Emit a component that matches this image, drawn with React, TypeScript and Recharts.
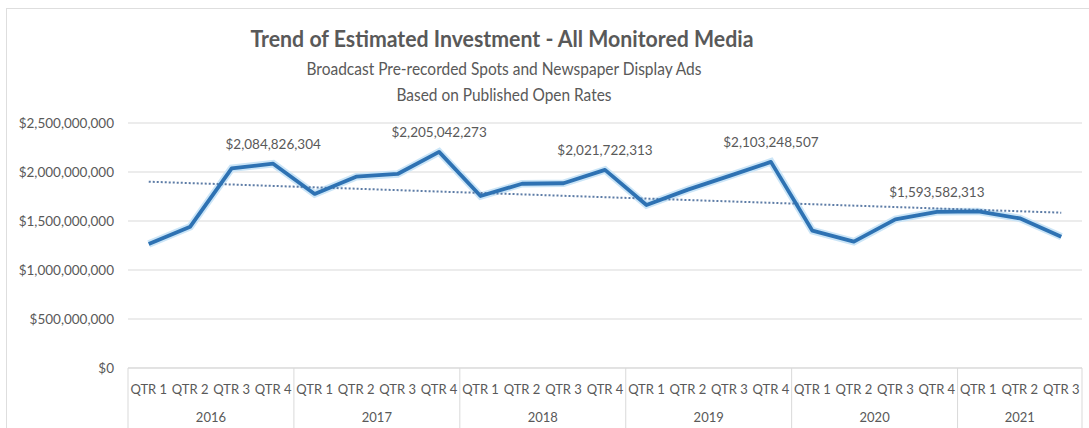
import { LineChart, Line, XAxis, YAxis, CartesianGrid } from "recharts";

const years = ["2016", "2017", "2018", "2019", "2020", "2021"];
const quarters = ["QTR 1", "QTR 2", "QTR 3", "QTR 4"];

// estimated investment per quarter, 2016 QTR 1 .. 2021 QTR 3
const investment = [
  1265000000, 1442000000, 2038000000, 2084826304,
  1776000000, 1952000000, 1980000000, 2205042273,
  1755000000, 1880000000, 1885000000, 2021722313,
  1663000000, 1820000000, 1960000000, 2103248507,
  1401000000, 1289000000, 1517000000, 1593582313,
  1598000000, 1527000000, 1340000000,
];

const labelledPoints = ["2016 QTR 4", "2017 QTR 4", "2018 QTR 4", "2019 QTR 4", "2020 QTR 4"];

// linear trendline end values
const trendStart = 1901000000;
const trendEnd = 1585000000;

const yTicks = [0, 500000000, 1000000000, 1500000000, 2000000000, 2500000000];

const rows = investment.map((value, i) => ({
  key: `${years[Math.floor(i / 4)]} ${quarters[i % 4]}`,
  year: years[Math.floor(i / 4)],
  qtr: quarters[i % 4],
  value,
  trend: i === 0 ? trendStart : i === investment.length - 1 ? trendEnd : null,
}));

const FONT = "Lato, 'Open Sans', sans-serif";
const GREY = "#595959";
const money = (v: number) => "$" + v.toLocaleString("en-US");

function QuarterTick(props: any) {
  const { x, y, payload } = props;
  const row = rows[payload.index];
  if (!row) return <g />;
  const half = payload.offset || 20.74;
  const groupSize = rows.filter((r) => r.year === row.year).length;
  const pos = quarters.indexOf(row.qtr);
  const showYear = pos === Math.floor((groupSize - 1) / 2);
  const yearX = groupSize % 2 === 0 ? x + half : x;
  const isLast = payload.index === rows.length - 1;
  return (
    <g>
      {pos === 0 && <line x1={x - half} x2={x - half} y1={y} y2={y + 62} stroke="#d9d9d9" />}
      {isLast && <line x1={x + half} x2={x + half} y1={y} y2={y + 62} stroke="#d9d9d9" />}
      <text x={x} y={y + 26} textAnchor="middle" fontSize={13} fill={GREY} fontFamily={FONT}>
        {row.qtr}
      </text>
      {showYear && (
        <text x={yearX} y={y + 54} textAnchor="middle" fontSize={13} fill={GREY} fontFamily={FONT}>
          {row.year}
        </text>
      )}
    </g>
  );
}

function PointLabel(props: any) {
  const { x, y, index, value } = props;
  const row = rows[index];
  if (!row || !labelledPoints.includes(row.key)) return <g />;
  return (
    <text x={x} y={y - 15} textAnchor="middle" fontSize={13.5} fill={GREY} fontFamily={FONT}>
      {money(value)}
    </text>
  );
}

export default function App() {
  return (
    <div style={{ position: "absolute", left: 0, top: 0, width: 1089, height: 428, overflow: "hidden", background: "#fff" }}>
      <div
        style={{
          position: "absolute",
          left: 6,
          top: 8,
          width: 1200,
          height: 500,
          borderLeft: "1px solid #dedede",
          borderTop: "1px solid #dedede",
        }}
      />
      <svg width={1089} height={110} style={{ position: "absolute", left: 0, top: 0 }}>
        <text x={502} y={47} textAnchor="middle" fontSize={23} fontWeight={700} fill={GREY} fontFamily={FONT}
          textLength={503} lengthAdjust="spacingAndGlyphs">
          Trend of Estimated Investment - All Monitored Media
        </text>
        <text x={504} y={75} textAnchor="middle" fontSize={17} fill={GREY} fontFamily={FONT}
          textLength={395} lengthAdjust="spacingAndGlyphs">
          Broadcast Pre-recorded Spots and Newspaper Display Ads
        </text>
        <text x={504} y={101} textAnchor="middle" fontSize={17} fill={GREY} fontFamily={FONT}
          textLength={215} lengthAdjust="spacingAndGlyphs">
          Based on Published Open Rates
        </text>
      </svg>
      <div style={{ position: "absolute", left: 0, top: 0 }}>
        <LineChart width={1089} height={428} data={rows} margin={{ top: 123, right: 7, bottom: 0, left: 0 }}>
          <CartesianGrid horizontal vertical={false} stroke="#d9d9d9" />
          <XAxis
            dataKey="key"
            scale="band"
            interval={0}
            height={60}
            tickSize={0}
            tickMargin={0}
            axisLine={{ stroke: "#d9d9d9" }}
            tickLine={false}
            tick={<QuarterTick />}
          />
          <YAxis
            width={128}
            domain={[0, 2500000000]}
            ticks={yTicks}
            tickFormatter={money}
            axisLine={false}
            tickLine={false}
            tickSize={0}
            tickMargin={14}
            tick={{ fontSize: 13.5, fill: GREY, fontFamily: FONT }}
          />
          <Line
            dataKey="value"
            stroke="#cbe5f7"
            strokeWidth={7.5}
            dot={false}
            activeDot={false}
            isAnimationActive={false}
          />
          <Line
            dataKey="trend"
            connectNulls
            stroke="#5d7ca6"
            strokeWidth={2}
            strokeDasharray="2 2"
            dot={false}
            activeDot={false}
            isAnimationActive={false}
          />
          <Line
            dataKey="value"
            stroke="#2e72b3"
            strokeWidth={3.8}
            strokeLinejoin="round"
            dot={false}
            activeDot={false}
            isAnimationActive={false}
            label={<PointLabel />}
          />
        </LineChart>
      </div>
    </div>
  );
}
